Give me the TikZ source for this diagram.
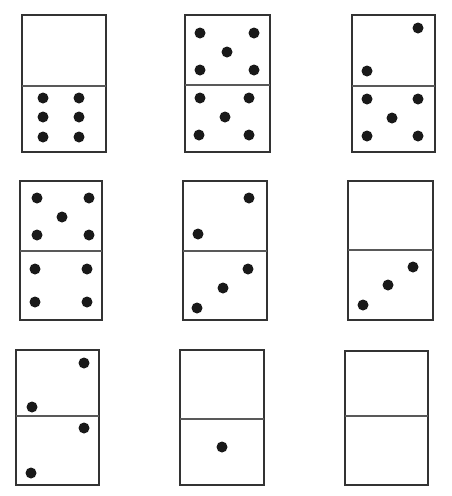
\documentclass[tikz,border=0pt]{standalone}
\begin{document}
\begin{tikzpicture}[x=1pt,y=-1pt,
  frame/.style={draw=black!80,line width=2.5pt},
  divider/.style={draw=black!65,line width=2.2pt},
  pip/.style={fill=black!90}]
\useasboundingbox (0,0) rectangle (452,496);
% row 1
\draw[frame] (22,15) rectangle (106,152); \draw[divider] (22,86) -- (106,86);
\foreach \p in {(43,98),(79,98),(43,117),(79,117),(43,137),(79,137)} \fill[pip] \p circle (5.5);
\draw[frame] (185,15) rectangle (270,152); \draw[divider] (185,85) -- (270,85);
\foreach \p in {(200,33),(254,33),(227,52),(200,70),(254,70),(200,98),(249,98),(225,117),(199,135),(249,135)} \fill[pip] \p circle (5.5);
\draw[frame] (352,15) rectangle (435,152); \draw[divider] (352,86) -- (435,86);
\foreach \p in {(418,28),(367,71),(367,99),(418,99),(392,118),(367,136),(418,136)} \fill[pip] \p circle (5.5);
% row 2
\draw[frame] (20,181) rectangle (102,320); \draw[divider] (20,251) -- (102,251);
\foreach \p in {(37,198),(89,198),(62,217),(37,235),(89,235),(35,269),(87,269),(35,302),(87,302)} \fill[pip] \p circle (5.5);
\draw[frame] (183,181) rectangle (267,320); \draw[divider] (183,251) -- (267,251);
\foreach \p in {(249,198),(198,234),(248,269),(223,288),(197,308)} \fill[pip] \p circle (5.5);
\draw[frame] (348,181) rectangle (433,320); \draw[divider] (348,250) -- (433,250);
\foreach \p in {(413,267),(388,285),(363,305)} \fill[pip] \p circle (5.5);
% row 3
\draw[frame] (16,350) rectangle (99,485); \draw[divider] (16,416) -- (99,416);
\foreach \p in {(84,363),(32,407),(84,428),(31,473)} \fill[pip] \p circle (5.5);
\draw[frame] (180,350) rectangle (264,485); \draw[divider] (180,419) -- (264,419);
\fill[pip] (222,447) circle (5.5);
\draw[frame] (345,351) rectangle (428,485); \draw[divider] (345,416) -- (428,416);
\end{tikzpicture}
\end{document}
